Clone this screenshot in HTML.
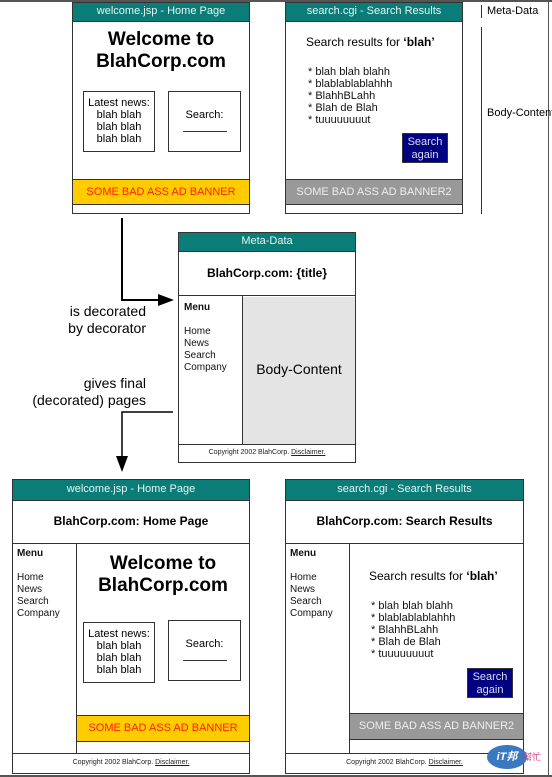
<!DOCTYPE html>
<html><head><meta charset="utf-8"><style>
body{margin:0;width:552px;height:777px;position:relative;background:#fff;font-family:"Liberation Sans",Arial,sans-serif;overflow:hidden}
.a{position:absolute;box-sizing:border-box;white-space:nowrap}
.pg{border:1px solid #333;background:#fff}
.hd{background:#0a7d78;color:#e8f4f3;font-size:11px;text-align:center;border-bottom:1px solid #333}
.c{text-align:center}
.ban{background:#ffcc00;color:#ff2200;font-size:11px;text-align:center;border:1px solid #333}
.ban2{background:#999;color:#eee;font-size:11px;text-align:center;border:1px solid #333}
.box{border:1px solid #333;font-size:11px;text-align:center;line-height:12px}
.btn{background:#000080;color:#dde;font-size:11px;text-align:center;line-height:13px;border:1px solid #333}
.t{font-size:11px;line-height:12px;color:#111}
.ft{font-size:7px;text-align:center;color:#222}
.ft u{color:#222}
</style></head><body>
<div class="a" style="left:0;top:0;width:552px;height:2px;background:#555"></div>
<div class="a" style="left:548px;top:0;width:1px;height:777px;background:#555"></div>
<div class="a" style="left:0;top:775px;width:552px;height:2px;background:#555"></div>

<!-- top left page -->
<div class="a pg" style="left:72px;top:2px;width:178px;height:212px">
 <div class="hd" style="height:18px;line-height:17px">welcome.jsp - Home Page</div>
 <div class="a c" style="left:0;top:26px;width:176px;font-size:19px;font-weight:bold;line-height:22px">Welcome to<br>BlahCorp.com</div>
 <div class="a box" style="left:10px;top:88px;width:72px;height:61px;padding-top:5px">Latest news:<br>blah blah<br>blah blah<br>blah blah</div>
 <div class="a box" style="left:95px;top:88px;width:73px;height:61px;padding-top:17px">Search:<br><span style="display:inline-block;width:44px;border-bottom:1px solid #333;height:10px"></span></div>
 <div class="a ban" style="left:-1px;top:176px;width:178px;height:26px;line-height:24px">SOME BAD ASS AD BANNER</div>
</div>
<!-- top right page -->
<div class="a pg" style="left:285px;top:2px;width:178px;height:212px">
 <div class="hd" style="height:18px;line-height:17px">search.cgi - Search Results</div>
 <div class="a" style="left:20px;top:32px;font-size:12px">Search results for <b>‘blah’</b></div>
 <div class="a t" style="left:22px;top:63px">* blah blah blahh<br>* blablablablahhh<br>* BlahhBLahh<br>* Blah de Blah<br>* tuuuuuuuut</div>
 <div class="a btn" style="left:116px;top:130px;width:46px;height:30px;padding-top:2px">Search<br>again</div>
 <div class="a ban2" style="left:-1px;top:176px;width:178px;height:26px;line-height:24px">SOME BAD ASS AD BANNER2</div>
</div>
<div class="a" style="left:481px;top:5px;width:1px;height:13px;background:#333"></div>
<div class="a" style="left:487px;top:5px;font-size:11px">Meta-Data</div>
<div class="a" style="left:481px;top:27px;width:1px;height:187px;background:#333"></div>
<div class="a" style="left:487px;top:107px;font-size:11px">Body-Content</div>

<!-- arrows -->
<svg class="a" style="left:0;top:0" width="552" height="777">
 <polyline points="122,218 122,300 160,300" fill="none" stroke="#000" stroke-width="2"/>
 <polygon points="158,294 174,300 158,306" fill="#000"/>
 <polyline points="173,412 122,412 122,460" fill="none" stroke="#000" stroke-width="1.5"/>
 <polygon points="116,456 122,472 128,456" fill="#000"/>
</svg>
<div class="a" style="left:40px;top:303px;width:106px;text-align:right;font-size:14px;line-height:17px">is decorated<br>by decorator</div>
<div class="a" style="left:20px;top:375px;width:126px;text-align:right;font-size:14px;line-height:17px">gives final<br>(decorated) pages</div>

<!-- decorator -->
<div class="a pg" style="left:178px;top:232px;width:178px;height:231px">
 <div class="hd" style="height:18px;line-height:17px">Meta-Data</div>
 <div class="a c" style="left:0;top:33px;width:176px;font-size:12px;font-weight:bold">BlahCorp.com: {title}</div>
 <div class="a" style="left:0;top:62px;width:176px;height:1px;background:#333"></div>
 <div class="a" style="left:63px;top:63px;width:1px;height:149px;background:#333"></div>
 <div class="a" style="left:64px;top:64px;width:112px;height:147px;background:#e4e4e4"></div>
 <div class="a c" style="left:64px;top:128px;width:112px;font-size:14px">Body-Content</div>
 <div class="a t" style="left:5px;top:69px;font-size:10px"><b>Menu</b><br><br>Home<br>News<br>Search<br>Company</div>
 <div class="a" style="left:0;top:211px;width:176px;height:1px;background:#333"></div>
 <div class="a ft" style="left:0;top:216px;width:176px">Copyright 2002 BlahCorp. <u>Disclaimer.</u></div>
</div>

<!-- bottom left -->
<div class="a pg" style="left:12px;top:479px;width:238px;height:295px">
 <div class="hd" style="height:20px;line-height:18px">welcome.jsp - Home Page</div>
 <div class="a c" style="left:0;top:34px;width:236px;font-size:12px;font-weight:bold">BlahCorp.com: Home Page</div>
 <div class="a" style="left:0;top:63px;width:236px;height:1px;background:#333"></div>
 <div class="a" style="left:63px;top:64px;width:1px;height:209px;background:#333"></div>
 <div class="a t" style="left:4px;top:68px;font-size:10px"><b>Menu</b><br><br>Home<br>News<br>Search<br>Company</div>
 <div class="a c" style="left:64px;top:73px;width:172px;font-size:19px;font-weight:bold;line-height:22px">Welcome to<br>BlahCorp.com</div>
 <div class="a box" style="left:70px;top:142px;width:72px;height:61px;padding-top:5px">Latest news:<br>blah blah<br>blah blah<br>blah blah</div>
 <div class="a box" style="left:155px;top:140px;width:73px;height:61px;padding-top:17px">Search:<br><span style="display:inline-block;width:44px;border-bottom:1px solid #333;height:10px"></span></div>
 <div class="a ban" style="left:63px;top:235px;width:174px;height:27px;line-height:25px">SOME BAD ASS AD BANNER</div>
 <div class="a" style="left:0;top:273px;width:236px;height:1px;background:#333"></div>
 <div class="a ft" style="left:0;top:279px;width:236px">Copyright 2002 BlahCorp. <u>Disclaimer.</u></div>
</div>
<!-- bottom right -->
<div class="a pg" style="left:285px;top:479px;width:239px;height:295px">
 <div class="hd" style="height:20px;line-height:18px">search.cgi - Search Results</div>
 <div class="a c" style="left:0;top:34px;width:237px;font-size:12px;font-weight:bold">BlahCorp.com: Search Results</div>
 <div class="a" style="left:0;top:63px;width:237px;height:1px;background:#333"></div>
 <div class="a" style="left:63px;top:64px;width:1px;height:209px;background:#333"></div>
 <div class="a t" style="left:4px;top:68px;font-size:10px"><b>Menu</b><br><br>Home<br>News<br>Search<br>Company</div>
 <div class="a" style="left:83px;top:89px;font-size:12px">Search results for <b>‘blah’</b></div>
 <div class="a t" style="left:85px;top:120px">* blah blah blahh<br>* blablablablahhh<br>* BlahhBLahh<br>* Blah de Blah<br>* tuuuuuuuut</div>
 <div class="a btn" style="left:181px;top:188px;width:46px;height:30px;padding-top:2px">Search<br>again</div>
 <div class="a ban2" style="left:63px;top:233px;width:175px;height:27px;line-height:25px">SOME BAD ASS AD BANNER2</div>
 <div class="a" style="left:0;top:273px;width:237px;height:1px;background:#333"></div>
 <div class="a ft" style="left:0;top:279px;width:237px">Copyright 2002 BlahCorp. <u>Disclaimer.</u></div>
</div>
<!-- logo -->
<div class="a" style="left:487px;top:745px;width:40px;height:24px;border-radius:50%;background:#3a78c0;color:#fff;font-size:11px;font-weight:bold;font-style:italic;text-align:center;line-height:24px;font-family:'Liberation Sans','Noto Sans CJK TC',sans-serif">iT邦</div>
<div class="a" style="left:523px;top:750px;font-size:9px;color:#d04080;font-family:'Liberation Sans','Noto Sans CJK TC',sans-serif">幫忙</div>
</body></html>
